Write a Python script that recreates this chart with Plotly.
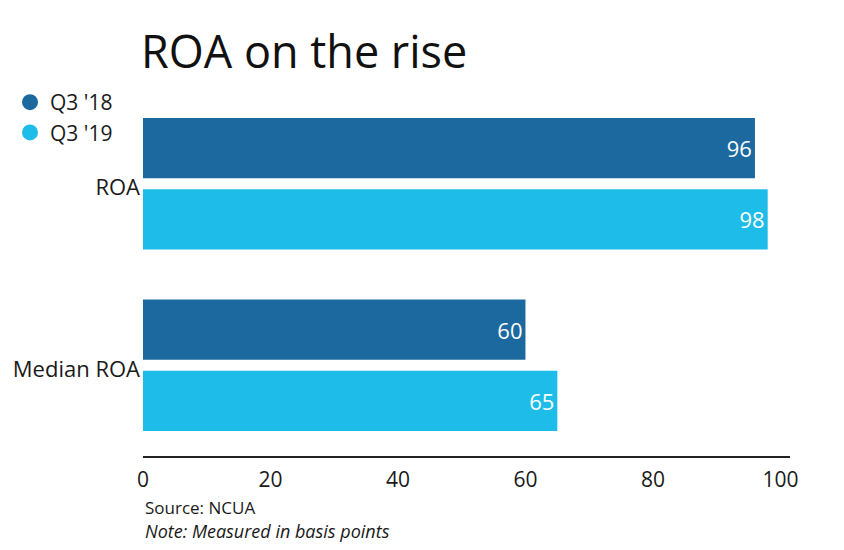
import plotly.graph_objects as go

categories = ["ROA", "Median ROA"]
series_names = ["Q3 '18", "Q3 '19"]
q3_18 = [96, 60]
q3_19 = [98, 65]
x_ticks = [0, 20, 40, 60, 80, 100]

colors = ["#1C699F", "#1EBDE9"]
FONT = "Open Sans, Lato, sans-serif"
TXT = "#1a1a1a"

W, H = 844, 550
L, R, T, B = 143, 54, 93, 94
PH = H - T - B


def py(pix):
    """pixel row -> paper y"""
    return (H - B - pix) / PH


fig = go.Figure()
for name, vals, col in zip(series_names, [q3_18, q3_19], colors):
    fig.add_trace(go.Bar(
        y=categories, x=vals, orientation="h", name=name,
        marker=dict(color=col, line=dict(width=0)),
        text=[str(v) for v in vals], textposition="inside",
        insidetextanchor="end", textangle=0,
        textfont=dict(color="white", size=22, family=FONT),
        showlegend=False, hoverinfo="skip",
    ))
for name, col in zip(series_names, colors):
    fig.add_trace(go.Scatter(
        x=[None], y=[None], mode="markers", name=name,
        marker=dict(color=col, size=22, symbol="circle"),
        showlegend=True,
    ))

fig.update_layout(
    width=W, height=H,
    margin=dict(l=L, r=R, t=T, b=B, autoexpand=False),
    paper_bgcolor="white", plot_bgcolor="white",
    barmode="group", bargap=0.215, bargroupgap=0.155,
    font=dict(family=FONT, color=TXT),
    title=dict(text="ROA on the rise", x=141/W, xanchor="left",
               y=1 - 52/H, yanchor="middle",
               font=dict(size=45, color="#111", family=FONT)),
    legend=dict(x=10/W, y=1 - 82/H, xanchor="left", yanchor="top",
                xref="container", yref="container",
                font=dict(size=21, color=TXT, family=FONT),
                itemsizing="trace", tracegroupgap=0, itemwidth=30,
                bgcolor="rgba(0,0,0,0)"),
    xaxis=dict(range=[0, 101.5], tickvals=x_ticks, showgrid=False,
               zeroline=False, showline=True, linecolor="#222", linewidth=1.5,
               ticks="", tickfont=dict(size=21, color=TXT, family=FONT),
               ticklabelstandoff=4, fixedrange=True, automargin=False),
    yaxis=dict(categoryorder="array", categoryarray=categories,
               autorange="reversed", showgrid=False, zeroline=False,
               showline=False, ticks="",
               tickfont=dict(size=22, color=TXT, family=FONT),
               ticklabelstandoff=2, ticklabelshift=-4,
               fixedrange=True, automargin=False),
    annotations=[
        dict(text="Source: NCUA", x=0, y=py(507), xref="paper",
             yref="paper", xanchor="left", yanchor="middle", showarrow=False,
             font=dict(size=17, color=TXT, family=FONT)),
        dict(text="<i>Note: Measured in basis points</i>", x=0,
             y=py(531), xref="paper", yref="paper", xanchor="left",
             yanchor="middle", showarrow=False,
             font=dict(size=18, color=TXT, family=FONT)),
    ],
)
fig.write_html("out.html", config={"displayModeBar": False},
               post_script="document.body.style.margin='0';")
